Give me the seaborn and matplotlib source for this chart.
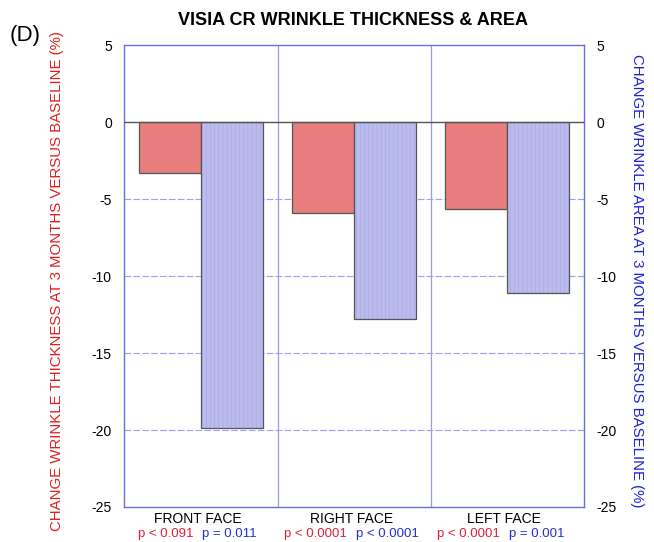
import numpy as np
import pandas as pd
import matplotlib
matplotlib.use("Agg")
import matplotlib.pyplot as plt
from matplotlib.colors import to_rgba
import seaborn as sns

sites = ["FRONT FACE", "RIGHT FACE", "LEFT FACE"]
thickness = [-3.3, -5.9, -5.65]
area = [-19.9, -12.8, -11.1]
p_thick = ["p < 0.091", "p < 0.0001", "p < 0.0001"]
p_area = ["p = 0.011", "p < 0.0001", "p = 0.001"]

df = pd.DataFrame({
    "site": sites * 2,
    "measure": ["Thickness"] * 3 + ["Area"] * 3,
    "value": thickness + area,
})

sns.set_style("white")
plt.rcParams["font.family"] = ["Liberation Sans", "DejaVu Sans"]
plt.rcParams["axes.unicode_minus"] = False
plt.rcParams["hatch.linewidth"] = 0.5
plt.rcParams["text.color"] = "black"
plt.rcParams["ytick.color"] = "black"

red = "#E87E7E"
blue = "#BBBBEE"
axis_blue = "#6B6BE0"

fig = plt.figure(figsize=(6.54, 5.42), dpi=100)
ax = fig.add_axes([0.19, 0.0646, 0.703, 0.852])

sns.barplot(data=df, x="site", y="value", hue="measure", order=sites,
            hue_order=["Thickness", "Area"], palette=[red, blue], saturation=1,
            width=0.81, edgecolor="#555555", linewidth=0.9, ax=ax, legend=False)
# fine vertical texture on the area bars
for patch in ax.patches[3:6]:
    patch.set_hatch("||||")
    patch._hatch_color = to_rgba("#A9A9E6")

ax.set_ylim(-25, 5)
ax.set_xlim(-0.5, 2.5)
ax.set_yticks(np.arange(-25, 6, 5))
ax.set_xlabel("")
ax.set_ylabel("CHANGE WRINKLE THICKNESS AT 3 MONTHS VERSUS BASELINE (%)",
              color="#E02020", fontsize=10.8)
ax.yaxis.set_label_coords(-0.130, 0.489)
ax.set_xticks([0, 1, 2])
ax.set_xticklabels([])
ax.tick_params(axis="y", length=0, labelsize=10, pad=9, labelcolor="black")

for y in [-20, -15, -10, -5]:
    ax.axhline(y, color="#A0A0EC", lw=0.8, ls=(0, (6, 2)), zorder=0)
ax.axhline(0, color="#555555", lw=1.0, zorder=3)
for x in [0.5, 1.5]:
    ax.axvline(x, color="#9A9AEA", lw=0.9, zorder=0)
for s in ax.spines.values():
    s.set_color(axis_blue)
    s.set_linewidth(1.0)

ax2 = ax.twinx()
ax2.set_ylim(-25, 5)
ax2.set_yticks(np.arange(-25, 6, 5))
ax2.tick_params(axis="y", length=0, labelsize=10, pad=9, labelcolor="black")
ax2.set_ylabel("CHANGE WRINKLE AREA AT 3 MONTHS VERSUS BASELINE (%)",
               color="#2020D0", fontsize=10.8, rotation=270, va="center")
ax2.yaxis.set_label_coords(1.115, 0.489)
for s in ax2.spines.values():
    s.set_visible(False)

for i, site in enumerate(sites):
    ax.text(i - 0.02, -25.78, site, ha="center", va="center", fontsize=10)
    ax.text(i - 0.05, -26.75, p_thick[i], ha="right", va="center", fontsize=9.5, color="#E0203A")
    ax.text(i + 0.01, -26.75, p_area[i], ha="left", va="center", fontsize=9.5, color="#2030D0")

fig.text(0.54, 0.962, "VISIA CR WRINKLE THICKNESS & AREA", ha="center", va="center",
         fontsize=13, fontweight="bold")
fig.text(0.015, 0.935, "(D)", ha="left", va="center", fontsize=16)

fig.savefig("out.png", dpi=100)
